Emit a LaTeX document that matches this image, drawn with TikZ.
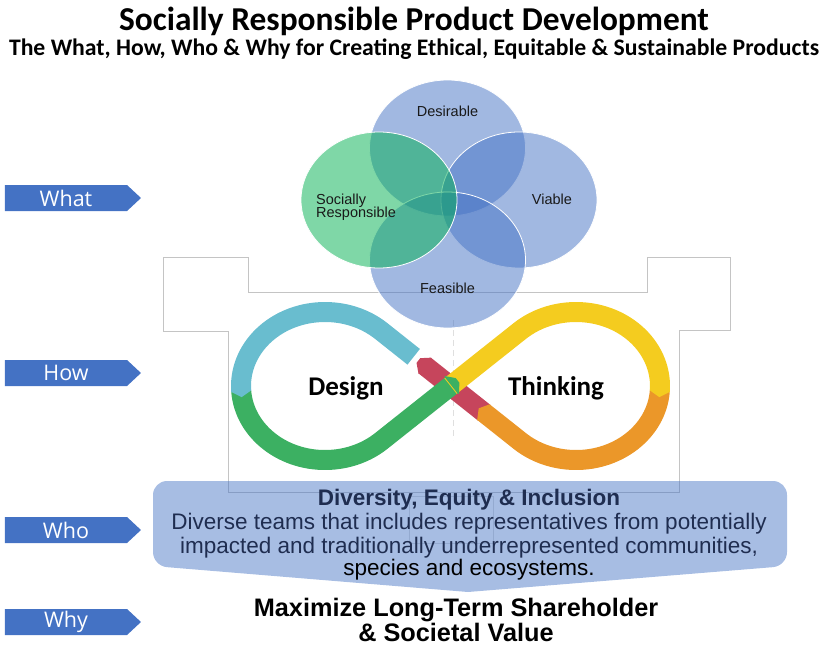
\documentclass[tikz,border=0pt]{standalone}
\usepackage{fontspec}
\setmainfont{Liberation Sans}
\newfontfamily\calibri{Carlito}
\newfontfamily\labelfont{Open Sans}
\usetikzlibrary{calc,shapes.geometric,shapes.symbols}

\definecolor{officeblue}{HTML}{4472C4}
\definecolor{srgreen}{HTML}{00B050}
\definecolor{cyanseg}{HTML}{69BDCF}
\definecolor{greenseg}{HTML}{3CB062}
\definecolor{yellowseg}{HTML}{F4CC1F}
\definecolor{orangeseg}{HTML}{EB9729}
\definecolor{redseg}{HTML}{C6455C}
\definecolor{navy}{HTML}{1F2D50}
\definecolor{framegray}{HTML}{C4C4C4}

% arrow-shaped tip closing a band segment: colour, point, direction, depth
\newcommand\flowtip[4]{%
  \pgfmathsetmacro\tipl{#3+90}\pgfmathsetmacro\tipr{#3-90}%
  \fill[#1] ($(#2)+(\tipl:10)+(#3:-1)$) -- ($(#2)+(\tipl:10)$) -- ($(#2)+(#3:#4)$)
    -- ($(#2)+(\tipr:10)$) -- ($(#2)+(\tipr:10)+(#3:-1)$) -- cycle;}
% blunt arrow head: colour, point, direction, depth, half width
\newcommand\bluntip[5]{%
  \pgfmathsetmacro\tipl{#3+90}\pgfmathsetmacro\tipr{#3-90}%
  \fill[#1] ($(#2)+(\tipl:#5)+(#3:-1)$) -- ($(#2)+(\tipl:#5)$) -- ($(#2)+(#3:#4)+(\tipl:3)$)
    -- ($(#2)+(#3:#4)+(\tipr:3)$) -- ($(#2)+(\tipr:#5)$) -- ($(#2)+(\tipr:#5)+(#3:-1)$) -- cycle;}

\tikzset{
  tag/.style={signal, signal to=east, signal pointer angle=86, fill=officeblue,
    minimum width=136pt, minimum height=26pt, inner sep=0pt, text=white,
    font=\labelfont\fontsize{21.5}{22}\selectfont},
  venn/.style={ellipse, minimum width=156pt, minimum height=136pt, draw=white,
    line width=0.8pt, fill opacity=0.5},
  vennlabel/.style={font=\fontsize{14.5}{13}\selectfont, text=black!90, anchor=base, inner sep=0pt},
  band/.style={line width=20pt, line cap=butt},
  frameline/.style={draw=framegray, line width=0.8pt},
  word/.style={font=\calibri\bfseries\fontsize{27}{30}\selectfont, anchor=base, inner sep=0pt},
  deitext/.style={font=\fontsize{22.5}{24}\selectfont, anchor=base, inner sep=0pt},
  purpose/.style={font=\bfseries\fontsize{25.3}{26}\selectfont, anchor=base, inner sep=0pt},
}

\begin{document}
\begin{tikzpicture}[x=1pt,y=-1pt]
\useasboundingbox (0,0) rectangle (824,645);

% headings
\node[font=\calibri\bfseries\fontsize{33.4}{36}\selectfont, anchor=base, inner sep=0pt] (title) at (414,30) {Socially Responsible Product Development};
\node[font=\calibri\bfseries\fontsize{23.7}{26}\selectfont, anchor=base, inner sep=0pt] (subtitle) at (414,55) {The What, How, Who \& Why for Creating Ethical, Equitable \& Sustainable Products};

% row tags
\node[tag] (what) at (66,198) {What};
\node[tag] (how)  at (66,373) {How};
\node[tag] (who)  at (66,530) {Who};
\node[tag] (why)  at (66,622) {Why};

% thin frame behind the cycle
\draw[frameline] (163,257) -- (248,257) -- (248,292) -- (647,292) -- (647,257) -- (730,257)
  -- (730,330) -- (679,330) -- (679,492) -- (228,492) -- (228,331) -- (163,331) -- cycle;
\draw[frameline, draw=framegray!60] (409,496) rectangle (493,543);
\draw[gray!25, line width=1.5pt, dash pattern=on 6pt off 4pt] (453.5,320) -- (453.5,440);

% four overlapping circles
\node[venn, fill=officeblue] (desirable) at (447.5,148) {};
\node[venn, fill=officeblue] (viable) at (519,200) {};
\node[venn, fill=officeblue] (feasible) at (447.5,260) {};
\node[venn, fill=srgreen] (social) at (379,200) {};
\node[vennlabel] (tdes) at (447.5,116) {Desirable};
\node[vennlabel] (tvia) at (552,204) {Viable};
\node[vennlabel] (tfea) at (447.5,293) {Feasible};
\node[vennlabel, anchor=base west] (tsoc1) at (316,204) {Socially};
\node[vennlabel, anchor=base west] (tsoc2) at (316,217) {Responsible};

% infinity loop
\coordinate (L) at (325,386);
\coordinate (R) at (576,386);
\coordinate (M) at (450.5,386);
\draw[band, redseg] ($(M)+(38.43:43)$) -- ($(M)+(218.43:33)$);
\draw[band, cyanseg] ($(M)+(218.43:47)$) -- ($(L)+(312.02:84 and 74)$)
  arc[start angle=312.02, end angle=176, x radius=84, y radius=74];
\draw[band, greenseg] ($(L)+(176:84 and 74)$)
  arc[start angle=176, end angle=47.98, x radius=84, y radius=74] -- ($(M)+(321.57:2)$);
\draw[band, yellowseg] (M) -- ($(R)+(227.98:84 and 74)$)
  arc[start angle=227.98, end angle=364, x radius=84, y radius=74];
\draw[band, orangeseg] ($(R)+(4:84 and 74)$)
  arc[start angle=4, end angle=132.02, x radius=84, y radius=74] -- ($(M)+(38.43:42)$);
\coordinate (cg) at ($(L)+(176:84 and 74)$);
\coordinate (yo) at ($(R)+(4:84 and 74)$);
\coordinate (og) at ($(M)+(38.43:42)$);
\coordinate (gy) at ($(M)+(321.57:2)$);
\coordinate (rt) at ($(M)+(218.43:33)$);
\bluntip{redseg}{rt}{218.43}{8}{10}
\flowtip{orangeseg}{og}{218.43}{6}
\flowtip{cyanseg}{cg}{85.5}{6}
\flowtip{yellowseg}{yo}{94.5}{6}
\bluntip{greenseg}{gy}{321.57}{7}{11}
\node[word] (design) at (346,395) {Design};
\node[word] (thinking) at (556,395) {Thinking};

% people block
\fill[officeblue, fill opacity=0.47, rounded corners=14pt]
  (468,592) -- (153,566) -- (153,481) -- (787,481) -- (787,566) -- (468,592);
\node[deitext, font=\bfseries\fontsize{22.5}{24}\selectfont, text=navy] (dei) at (469,505) {Diversity, Equity \& Inclusion};
\node[deitext, text=navy] (dei1) at (469,529) {Diverse teams that includes representatives from potentially};
\node[deitext, text=navy] (dei2) at (469,553) {impacted and traditionally underrepresented communities,};
\node[deitext, text=black] (dei3) at (469,575) {species and ecosystems.};

% purpose
\node[purpose] (why1) at (456,616) {Maximize Long-Term Shareholder};
\node[purpose] (why2) at (456,641) {\& Societal Value};
\end{tikzpicture}
\end{document}
